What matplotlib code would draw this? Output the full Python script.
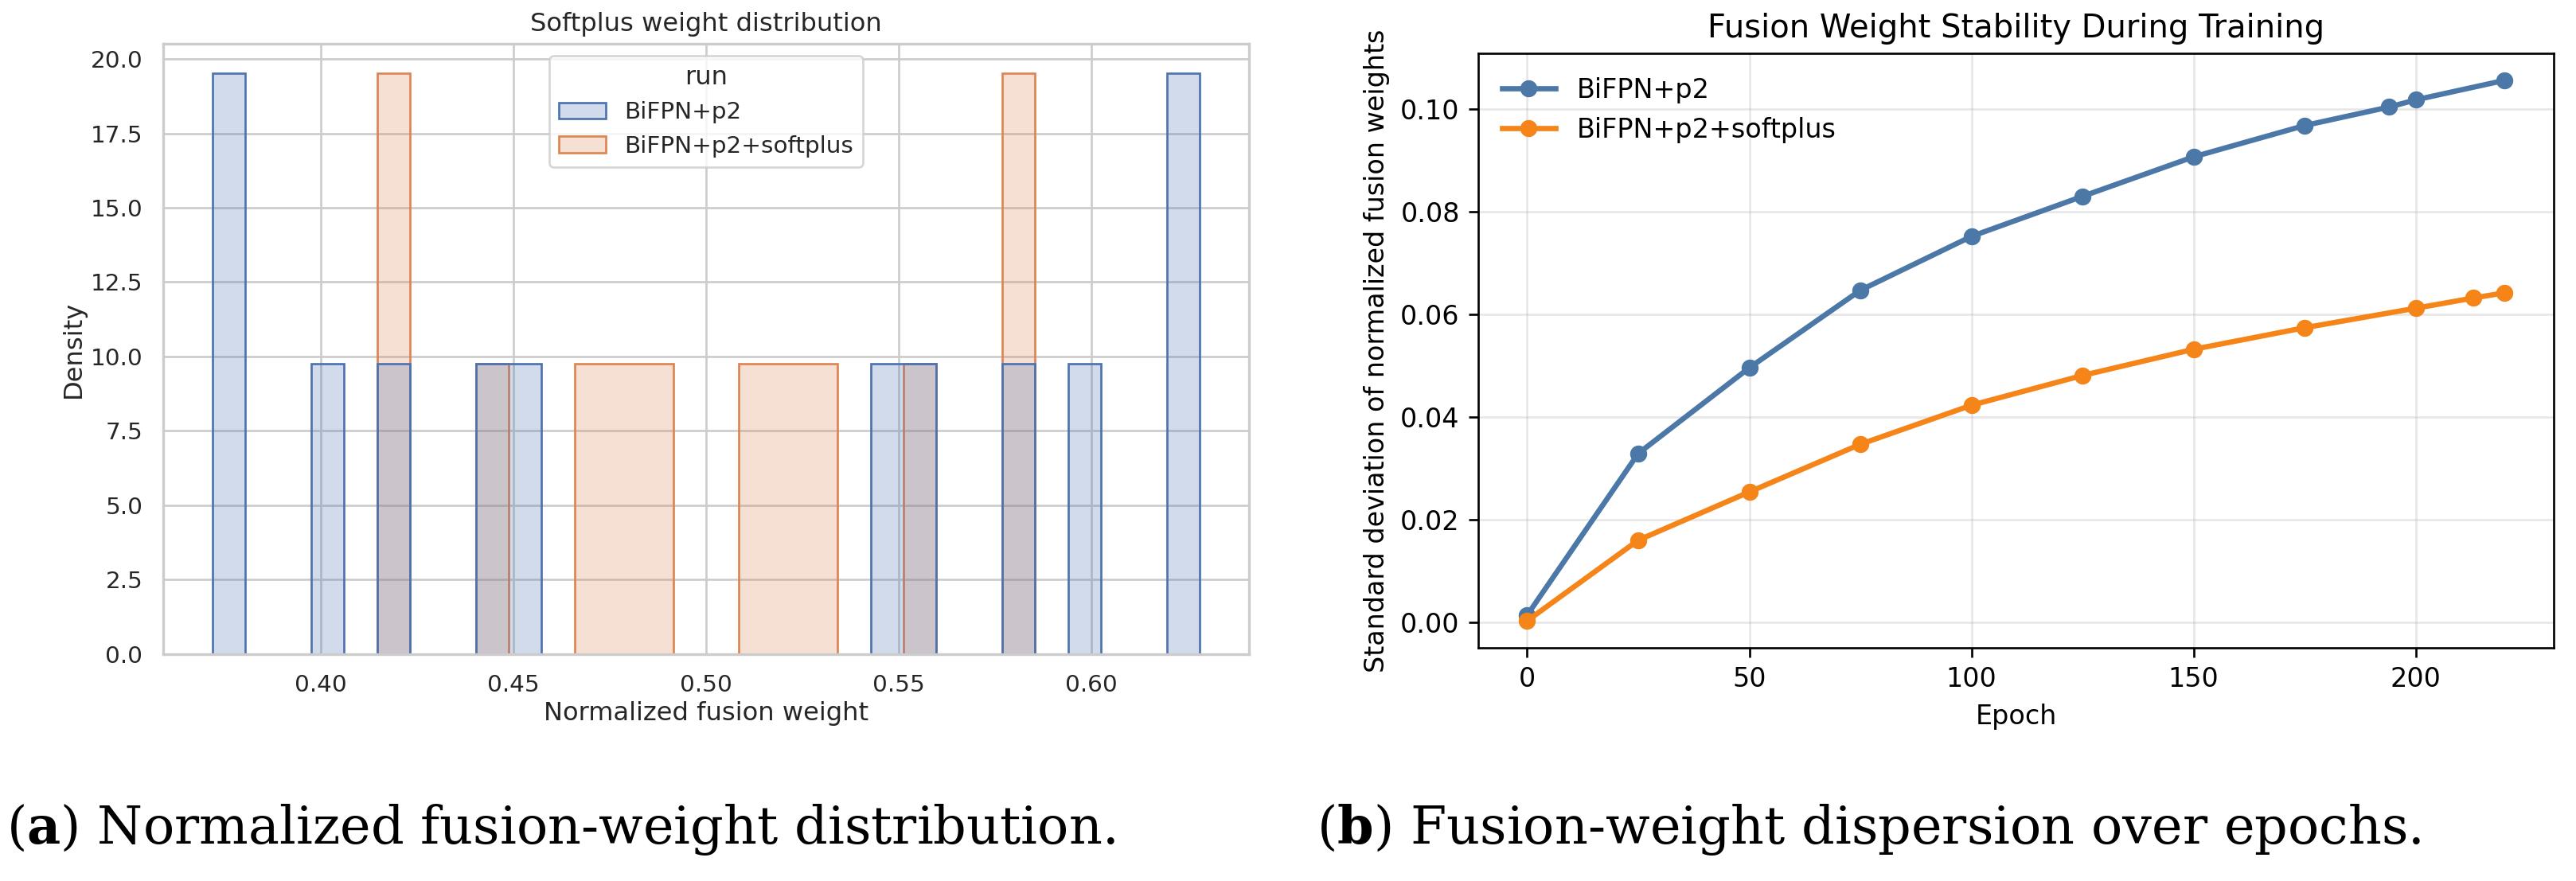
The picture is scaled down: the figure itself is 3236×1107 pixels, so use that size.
"""
Two-panel figure: fusion-weight histogram (a) and weight dispersion over epochs (b).
"""

import matplotlib
matplotlib.use("Agg")
import matplotlib.pyplot as plt
import numpy as np
import seaborn as sns
from matplotlib.colors import to_rgba

# normalized fusion weights at the end of training (one value per fused input)
run_labels = ["BiFPN+p2", "BiFPN+p2+softplus"]
weights_bifpn = [0.372, 0.376, 0.402, 0.419, 0.444, 0.453,
                 0.547, 0.556, 0.581, 0.598, 0.624, 0.628]
weights_softplus = [0.417, 0.421, 0.445, 0.470, 0.479, 0.487,
                    0.513, 0.521, 0.530, 0.555, 0.579, 0.583]
n_bins = 30

# std of normalized fusion weights per evaluated epoch
epochs_bifpn = [0, 25, 50, 75, 100, 125, 150, 175, 194, 200, 220]
std_bifpn = [0.0014, 0.0329, 0.0496, 0.0647, 0.0752, 0.0830,
             0.0907, 0.0968, 0.1004, 0.1018, 0.1056]
epochs_softplus = [0, 25, 50, 75, 100, 125, 150, 175, 200, 213, 220]
std_softplus = [0.0003, 0.0160, 0.0254, 0.0347, 0.0423, 0.0481,
                0.0532, 0.0574, 0.0612, 0.0632, 0.0642]

caption_a = r"($\mathbf{a}$) Normalized fusion-weight distribution."
caption_b = r"($\mathbf{b}$) Fusion-weight dispersion over epochs."

plt.rcParams["mathtext.fontset"] = "custom"
plt.rcParams["mathtext.rm"] = "DejaVu Serif"
plt.rcParams["mathtext.bf"] = "DejaVu Serif:bold"

fig = plt.figure(figsize=(32.37, 11.07), dpi=100)

# ---- (a) histogram, seaborn whitegrid look ----
s = 1.93  # scale of the embedded panel
with sns.axes_style("whitegrid"):
    ax1 = fig.add_axes([0.0633, 0.2575, 0.4214, 0.6928])
    hist_colors = sns.color_palette("deep")[:2]
    edges = np.histogram_bin_edges(weights_bifpn + weights_softplus, bins=n_bins)
    series = [weights_bifpn, weights_softplus]
    handles = []
    # second run drawn first so the first one sits on top
    for vals, lab, c in reversed(list(zip(series, run_labels, hist_colors))):
        dens, _ = np.histogram(vals, bins=edges, density=True)
        h = ax1.stairs(dens, edges, fill=True, baseline=0,
                       facecolor=to_rgba(c, 0.25), edgecolor=c,
                       linewidth=1.0 * s, label=lab)
        handles.append(h)
    handles = handles[::-1]
    ax1.grid(True, color="#cccccc", linewidth=1.0 * s)
    ax1.set_axisbelow(True)
    for sp in ax1.spines.values():
        sp.set_linewidth(1.25 * s)
        sp.set_color("#cccccc")
    ax1.tick_params(length=6 * s, pad=3.5 * s, labelsize=11 * s,
                    bottom=False, left=False, labelcolor="#262626")
    ax1.set_xticks([0.40, 0.45, 0.50, 0.55, 0.60])
    ax1.set_yticks(np.arange(0, 20.1, 2.5))
    ax1.set_xlabel("Normalized fusion weight", fontsize=12 * s, color="#262626")
    ax1.set_ylabel("Density", fontsize=12 * s, color="#262626")
    ax1.set_title("Softplus weight distribution", fontsize=12 * s,
                  color="#262626", pad=6 * s)
    leg = ax1.legend(handles=handles, labels=run_labels, title="run",
                     loc="upper center", fontsize=11 * s,
                     title_fontsize=12 * s)
    leg.get_frame().set_linewidth(1.0 * s)
    for t in leg.get_texts():
        t.set_color("#262626")
    leg.get_title().set_color("#262626")

# ---- (b) std over epochs, plain matplotlib look ----
k = 2.4
ax2 = fig.add_axes([0.5737, 0.2647, 0.4173, 0.6748])
ax2.plot(epochs_bifpn, std_bifpn, marker="o", color="#4c78a8",
         lw=2 * k, ms=6 * k, label=run_labels[0])
ax2.plot(epochs_softplus, std_softplus, marker="o", color="#f58518",
         lw=2 * k, ms=6 * k, label=run_labels[1])
ax2.grid(True, alpha=0.3, linewidth=0.8 * k)
for sp in ax2.spines.values():
    sp.set_linewidth(0.8 * k)
ax2.tick_params(length=3.5 * k, width=0.8 * k, pad=3.5 * k, labelsize=10 * k)
ax2.set_xlabel("Epoch", fontsize=10 * k, labelpad=4 * k)
ax2.set_ylabel("Standard deviation of normalized fusion weights",
               fontsize=10 * k, labelpad=4 * k)
ax2.set_title("Fusion Weight Stability During Training", fontsize=12 * k,
              pad=6 * k)
ax2.legend(loc="upper left", fontsize=10 * k, frameon=False)

# ---- captions ----
cap_kw = dict(fontsize=47, family="DejaVu Serif", va="baseline", ha="left")
fig.text(0.0025, 0.0425, caption_a, **cap_kw)
fig.text(0.511, 0.0425, caption_b, **cap_kw)

fig.savefig("out.png", dpi=100)
